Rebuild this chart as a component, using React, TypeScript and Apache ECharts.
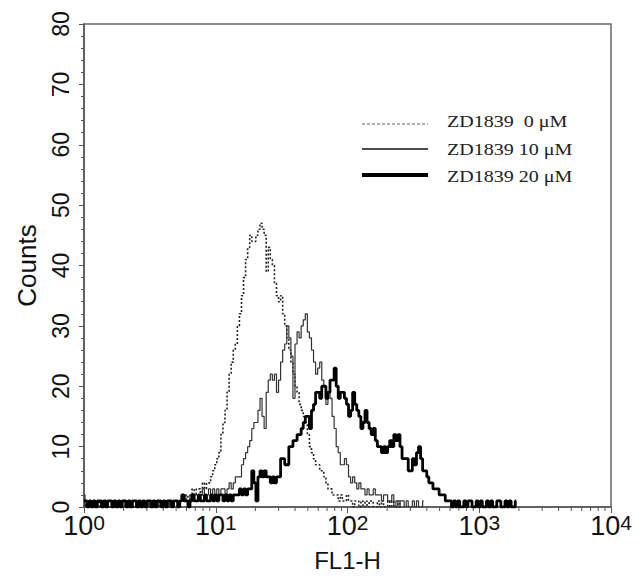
import React, { useEffect, useRef } from 'react';
import * as echarts from 'echarts';

// Histogram bins: 64 channels per decade, channel i sits at FL1-H = 10^(i/64)
const BINS_PER_DECADE = 64;

const SERIES_NAMES = ['ZD1839  0 μM', 'ZD1839 10 μM', 'ZD1839 20 μM'];

const X_TICK_LABELS = ['0', '1', '2', '3', '4'];
const X_MINOR_TICKS = [
  2, 3, 4, 5, 6, 7, 8, 9,
  20, 30, 40, 50, 60, 70, 80, 90,
  200, 300, 400, 500, 600, 700, 800, 900,
  2000, 3000, 4000, 5000, 6000, 7000, 8000, 9000,
];

// ZD1839 0 µM (dashed)
const COUNTS_0 = [
  1, 0, 0, 1, 0, 0, 0, 1, 0, 0, 1, 0, 0, 0, 1, 0, 0, 1, 0, 0,
  0, 1, 0, 1, 0, 0, 1, 0, 0, 1, 0, 1, 0, 0, 1, 0, 1, 0, 1, 1,
  0, 1, 0, 1, 1,
  1, 0, 1, 2, 1, 2, 1, 2, 3, 2,
  3, 3, 2, 4, 3, 4, 4, 5, 6, 7,
  8, 9, 12, 14, 16, 19, 22, 24, 26, 27,
  30, 32, 35, 38, 41, 43, 45, 44, 44, 45,
  46, 47, 46, 45, 39, 43, 41, 40, 37, 35,
  34, 35, 32, 30, 28, 26, 24, 22, 20, 19,
  17, 16, 15, 14, 12, 10, 9, 8, 7, 7,
  6, 6, 5, 4, 3, 3, 2, 2, 2, 1,
  2, 1, 1, 2, 1, 1, 0, 1, 1, 0, 1,
  0, 1, 0, 1, 1, 0, 0, 1, 0, 1, 0, 0, 1, 0, 1, 0, 0, 1, 0,
];

// ZD1839 10 µM (thin solid)
const COUNTS_10 = [
  2, 0, 1, 0, 0, 1, 0, 0, 0, 1, 0, 1, 0, 0, 1, 0, 0, 0, 1, 0,
  1, 0, 0, 1, 0, 0, 0, 1, 0, 1, 0, 0, 1, 1, 0, 1, 0, 1, 0, 1,
  1, 0, 1, 1, 1,
  1, 0, 1, 1, 2, 1, 1, 2, 1, 2, 2,
  1, 2, 3, 2, 2, 3, 2, 3, 2, 3,
  2, 3, 3, 2, 3, 4, 3, 4, 5, 5,
  5, 7, 8, 9, 10, 11, 13, 14, 14, 16,
  18, 15, 13, 19, 21, 22, 21, 22, 19, 21,
  24, 26, 27, 30, 28, 25, 18, 27, 29, 28,
  30, 31, 32, 29, 28, 26, 24, 22, 23, 24,
  21, 20, 17, 19, 18, 15, 13, 10, 9, 7,
  7, 8, 7, 5, 4, 5, 4, 3, 4, 3,
  3, 2, 3, 2, 2, 3, 2, 2, 2, 1,
  2, 2, 1, 1, 2,
  0, 1, 0, 1, 1, 0, 1, 0, 0, 1, 0, 1, 0, 0, 1,
];

// ZD1839 20 µM (thick solid)
const COUNTS_20 = [
  1, 1, 0, 1, 0, 1, 0, 1, 1, 0, 1, 0, 1, 1, 0, 1, 0, 1, 0, 1,
  1, 0, 1, 0, 1, 1, 0, 1, 0, 1, 0, 1, 1, 0, 1, 0, 1, 1, 0, 1,
  0, 1, 1, 0, 1,
  1, 0, 1, 2, 1, 1, 0, 1, 2, 1, 1, 2, 1, 1, 2, 1,
  1, 2, 1, 2, 1, 2, 2, 1, 2, 1,
  2, 1, 2, 2, 2, 3, 2, 3, 2, 3,
  3, 6, 4, 1, 5, 6, 5, 6, 5, 5,
  4, 5, 4, 5, 5, 8, 8, 7, 7, 10,
  10, 11, 11, 12, 12, 13, 14, 15, 15, 13,
  16, 17, 19, 19, 18, 20, 20, 18, 19, 21,
  21, 23, 20, 18, 19, 19, 18, 17, 15, 16,
  19, 17, 16, 15, 13, 14, 16, 14, 13, 12,
  13, 11, 10, 10, 9, 10, 9, 10, 11, 10,
  12, 11, 12, 10, 8, 8, 8, 6, 6, 8,
  7, 9, 10, 8, 6, 6, 5, 4, 4, 3,
  3, 3, 2, 2, 2, 1, 1, 1,
  0, 1, 0, 1, 0, 0, 1, 0, 1, 1, 0, 0, 1, 0, 1, 0, 0, 1, 0, 1,
  0, 0, 1, 1, 0, 0, 1, 0, 1, 0, 0, 1,
];

const toPoints = (counts: number[]) =>
  counts.map((c, i) => [Math.pow(10, i / BINS_PER_DECADE), c]);

const AXIS_COLOR = '#555';
const SANS = '"Liberation Sans", Arial, Helvetica, sans-serif';
const SERIF = '"Liberation Serif", "Times New Roman", serif';

export default function App() {
  const ref = useRef<HTMLDivElement>(null);

  useEffect(() => {
    if (!ref.current) return;
    const chart = echarts.init(ref.current, undefined, { renderer: 'svg' });
    chart.setOption({
      animation: false,
      backgroundColor: '#fff',
      grid: {
        left: 84, right: 32, top: 24, bottom: 66,
        show: true, borderColor: '#666', borderWidth: 1.5,
      },
      xAxis: {
        type: 'log',
        logBase: 10,
        min: 1,
        max: 10000,
        name: 'FL1-H',
        nameLocation: 'middle',
        nameGap: 41,
        nameTextStyle: { fontSize: 24, fontFamily: SANS, color: '#111' },
        axisLine: { show: true, lineStyle: { color: AXIS_COLOR, width: 1.5 } },
        axisTick: { show: true, length: 6, lineStyle: { color: AXIS_COLOR } },
        splitLine: { show: false },
        axisLabel: {
          margin: 5,
          showMinLabel: true,
          showMaxLabel: true,
          color: '#111',
          formatter: (v: number) =>
            `{b|10}{s|${X_TICK_LABELS[Math.round(Math.log10(v))]}}`,
          rich: {
            b: { fontSize: 27, lineHeight: 27, fontFamily: SANS, color: '#111', padding: [7, 0, 0, 0], verticalAlign: 'bottom' },
            s: { fontSize: 21, lineHeight: 21, fontFamily: SANS, color: '#111', verticalAlign: 'top' },
          },
        },
      },
      yAxis: {
        type: 'value',
        min: 0,
        max: 80,
        interval: 10,
        name: 'Counts',
        nameLocation: 'middle',
        nameGap: 44,
        nameRotate: 90,
        nameTextStyle: { fontSize: 26, fontFamily: SANS, color: '#111' },
        axisLine: { show: true, lineStyle: { color: AXIS_COLOR, width: 1.5 } },
        axisTick: { show: true, length: 5, lineStyle: { color: AXIS_COLOR } },
        minorTick: { show: true, splitNumber: 5, length: 3, lineStyle: { color: AXIS_COLOR } },
        splitLine: { show: false },
        axisLabel: { rotate: 90, margin: 12, fontSize: 23, fontFamily: SANS, color: '#111' },
      },
      series: [
        {
          type: 'custom',
          silent: true,
          clip: false,
          data: X_MINOR_TICKS.map((v) => [v, 0]),
          renderItem: (_p: any, api: any) => {
            const pt = api.coord([api.value(0), 0]);
            return {
              type: 'line',
              shape: { x1: pt[0], y1: pt[1], x2: pt[0], y2: pt[1] + 4 },
              style: { stroke: AXIS_COLOR, lineWidth: 1 },
            };
          },
          z: 1,
        },
        {
          name: SERIES_NAMES[0],
          type: 'line',
          step: 'middle',
          showSymbol: false,
          data: toPoints(COUNTS_0),
          lineStyle: { color: '#222', width: 1.6, type: [2, 2] },
          z: 2,
        },
        {
          name: SERIES_NAMES[1],
          type: 'line',
          step: 'middle',
          showSymbol: false,
          data: toPoints(COUNTS_10),
          lineStyle: { color: '#333', width: 1.2 },
          z: 3,
        },
        {
          name: SERIES_NAMES[2],
          type: 'line',
          step: 'middle',
          showSymbol: false,
          data: toPoints(COUNTS_20),
          lineStyle: { color: '#000', width: 2.8 },
          z: 4,
        },
      ],
      graphic: [
        { type: 'line', shape: { x1: 362, y1: 124, x2: 428, y2: 124 }, style: { stroke: '#666', lineWidth: 1.2, lineDash: [3, 2] } },
        { type: 'line', shape: { x1: 362, y1: 149, x2: 428, y2: 149 }, style: { stroke: '#111', lineWidth: 1.6 } },
        { type: 'line', shape: { x1: 362, y1: 175, x2: 428, y2: 175 }, style: { stroke: '#000', lineWidth: 4 } },
        { type: 'text', x: 447, y: 121, scaleX: 1.18, style: { text: SERIES_NAMES[0], font: `17px ${SERIF}`, fill: '#222', verticalAlign: 'middle' } },
        { type: 'text', x: 447, y: 149, scaleX: 1.18, style: { text: SERIES_NAMES[1], font: `17px ${SERIF}`, fill: '#222', verticalAlign: 'middle' } },
        { type: 'text', x: 447, y: 176, scaleX: 1.18, style: { text: SERIES_NAMES[2], font: `17px ${SERIF}`, fill: '#222', verticalAlign: 'middle' } },
      ],
    });
    return () => chart.dispose();
  }, []);

  return (
    <div
      ref={ref}
      style={{ position: 'absolute', left: 0, top: 0, width: 643, height: 577 }}
    />
  );
}
